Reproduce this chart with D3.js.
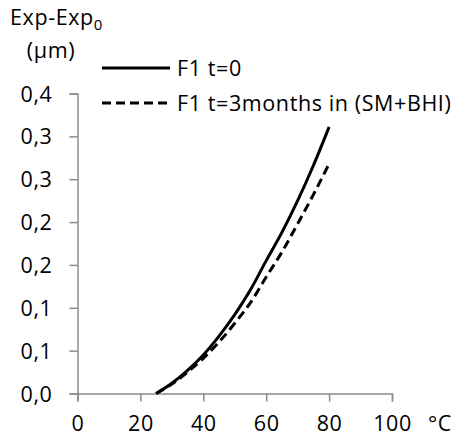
<!DOCTYPE html>
<html>
<head>
<meta charset="utf-8">
<script src="https://cdn.jsdelivr.net/npm/d3@7"></script>
<style>
  body { margin: 0; background: #fff; }
  svg text { font-family: "Open Sans", sans-serif; fill: #000; letter-spacing: 0.6px; }
</style>
</head>
<body>
<div id="chart"><svg width="464" height="437"></svg></div>
<script>
// data
var temps = [25, 30, 35, 40, 45, 50, 55, 60, 65, 70, 75, 80];
var expT0 = [0, 0.012, 0.027, 0.045, 0.067, 0.092, 0.121, 0.155, 0.188, 0.225, 0.266, 0.311];
var expT3 = [0, 0.011, 0.025, 0.041, 0.060, 0.082, 0.106, 0.136, 0.165, 0.198, 0.232, 0.268];

var xTicks = [0, 20, 40, 60, 80, 100];
var yTicks = [0, 0.05, 0.1, 0.15, 0.2, 0.25, 0.3, 0.35];
var yTickLabels = ["0,0", "0,1", "0,1", "0,2", "0,2", "0,3", "0,3", "0,4"];
var seriesNames = ["F1 t=0", "F1 t=3months in (SM+BHI)"];

var svg = d3.select("#chart").select("svg");

var fontSize = "21.5px";

var x = d3.scaleLinear().domain([0, 100]).range([77.5, 392]);
var y = d3.scaleLinear().domain([0, 0.35]).range([393.5, 93.5]);

var axisColor = "#8c8c8c";

// y axis
var gy = svg.append("g")
    .attr("transform", "translate(" + x(0) + ",0)")
    .call(d3.axisLeft(y).tickValues(yTicks).tickFormat((d, i) => yTickLabels[i]).tickSize(8).tickPadding(17));
gy.select(".domain").attr("stroke", axisColor).attr("stroke-width", 1.5);
gy.selectAll(".tick line").attr("stroke", axisColor).attr("stroke-width", 1.5);
gy.selectAll("text").style("font-size", fontSize).style("font-family", "Open Sans, sans-serif").attr("dy", "0.35em");

// x axis
var gx = svg.append("g")
    .attr("transform", "translate(0," + y(0) + ")")
    .call(d3.axisBottom(x).tickValues(xTicks).tickSize(8).tickPadding(14));
gx.select(".domain").attr("stroke", axisColor).attr("stroke-width", 1.5);
gx.selectAll(".tick line").attr("stroke", axisColor).attr("stroke-width", 1.5);
gx.selectAll("text").style("font-size", fontSize).style("font-family", "Open Sans, sans-serif");

// unit label
svg.append("text")
    .attr("x", 428).attr("y", 431)
    .style("font-size", fontSize)
    .text("°C");

// y title
var title = svg.append("text")
    .attr("x", 10).attr("y", 25)
    .style("font-size", fontSize);
title.append("tspan").text("Exp-Exp");
title.append("tspan").attr("dy", 5).style("font-size", "15px").text("0");
svg.append("text")
    .attr("x", 51).attr("y", 58)
    .attr("text-anchor", "middle")
    .style("font-size", fontSize)
    .text("(µm)");

// lines
var line = d3.line()
    .x((d, i) => x(temps[i]))
    .y(d => y(d))
    .curve(d3.curveMonotoneX);

svg.append("path")
    .datum(expT0)
    .attr("d", line)
    .attr("fill", "none")
    .attr("stroke", "#000")
    .attr("stroke-width", 3);

svg.append("path")
    .datum(expT3)
    .attr("d", line)
    .attr("fill", "none")
    .attr("stroke", "#000")
    .attr("stroke-width", 3)
    .attr("stroke-dasharray", "9,5");

// legend
var legend = svg.append("g");
var legY = [68, 103];
var dashes = [null, "9,5"];
seriesNames.forEach(function (name, i) {
    legend.append("line")
        .attr("x1", 102).attr("x2", 170)
        .attr("y1", legY[i]).attr("y2", legY[i])
        .attr("stroke", "#000")
        .attr("stroke-width", 3)
        .attr("stroke-dasharray", dashes[i]);
    legend.append("text")
        .attr("x", 177).attr("y", legY[i] + 8)
        .style("font-size", fontSize)
        .text(name);
});
</script>
</body>
</html>
